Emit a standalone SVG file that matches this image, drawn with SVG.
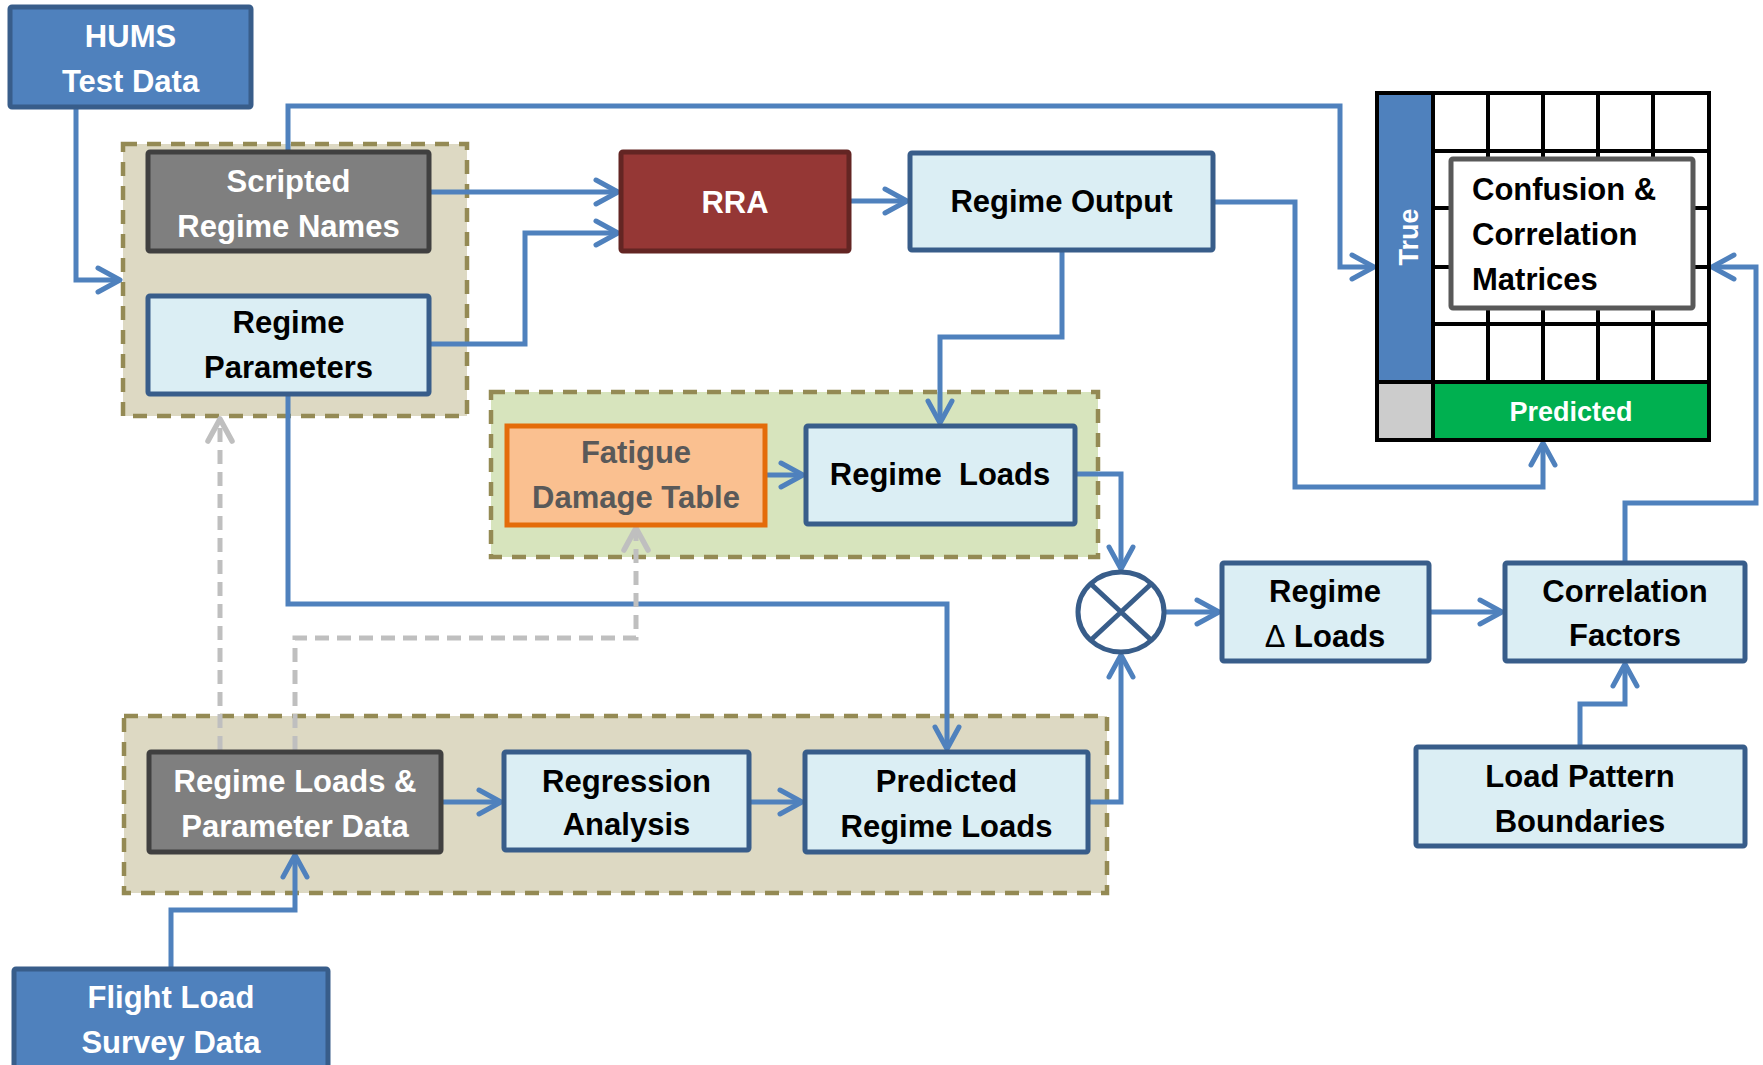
<svg xmlns="http://www.w3.org/2000/svg" width="1763" height="1065" viewBox="0 0 1763 1065">
<style>
text{font-family:"Liberation Sans",Arial,sans-serif;font-weight:bold;font-size:31px;text-anchor:middle}
.w{fill:#ffffff}
.k{fill:#000000}
.g{fill:#595959}
.blue{fill:#4f81bd;stroke:#385d8a;stroke-width:5}
.light{fill:#dbeef4;stroke:#385d8a;stroke-width:5}
.dark{fill:#7f7f7f;stroke:#404040;stroke-width:5}
.grp{stroke:#948a54;stroke-width:4.5;stroke-dasharray:14 10}
.c{fill:none;stroke:#4f81bd;stroke-width:5;stroke-linejoin:miter}
.d{fill:none;stroke:#bfbfbf;stroke-width:5;stroke-dasharray:14 8}
.grid{stroke:#000000;stroke-width:4}
</style>
<defs>
<marker id="ah" viewBox="-28 -16 32 32" refX="0" refY="0" markerWidth="32" markerHeight="32" markerUnits="userSpaceOnUse" orient="auto">
<path d="M-22,-12 L0,0 L-22,12" fill="none" stroke="#4f81bd" stroke-width="5" stroke-linecap="round" stroke-linejoin="round"/>
</marker>
<marker id="ahg" viewBox="-28 -16 32 32" refX="0" refY="0" markerWidth="32" markerHeight="32" markerUnits="userSpaceOnUse" orient="auto">
<path d="M-22,-12 L0,0 L-22,12" fill="none" stroke="#bfbfbf" stroke-width="5.5" stroke-linecap="round" stroke-linejoin="round"/>
</marker>
</defs>

<g id="group-top">
<rect x="123" y="144" width="344" height="272" fill="#ddd9c3" class="grp"/>
</g>
<g id="group-fatigue">
<rect x="491" y="392" width="607" height="165" fill="#d7e4bd" class="grp"/>
</g>
<g id="group-bottom">
<rect x="124" y="716" width="983" height="177" fill="#ddd9c3" class="grp"/>
</g>

<g id="connectors">
<path class="c" d="M76,107 V280 H120" marker-end="url(#ah)"/>
<path class="c" d="M288,152 V106 H1340 V267 H1374" marker-end="url(#ah)"/>
<path class="c" d="M429,192 H618" marker-end="url(#ah)"/>
<path class="c" d="M429,344 H525 V233 H618" marker-end="url(#ah)"/>
<path class="c" d="M849,201 H907" marker-end="url(#ah)"/>
<path class="c" d="M1213,202 H1295 V487 H1543 V443" marker-end="url(#ah)"/>
<path class="c" d="M1062,250 V337 H940 V423" marker-end="url(#ah)"/>
<path class="c" d="M765,475 H803" marker-end="url(#ah)"/>
<path class="c" d="M1075,474 H1121 V569" marker-end="url(#ah)"/>
<path class="c" d="M1088,802 H1121 V655" marker-end="url(#ah)"/>
<path class="c" d="M1166,612 H1219" marker-end="url(#ah)"/>
<path class="c" d="M1429,612 H1502" marker-end="url(#ah)"/>
<path class="c" d="M1625,563 V503 H1756 V267 H1712" marker-end="url(#ah)"/>
<path class="c" d="M1580,747 V704 H1625 V664" marker-end="url(#ah)"/>
<path class="c" d="M288,394 V604 H947 V749" marker-end="url(#ah)"/>
<path class="c" d="M441,802 H501" marker-end="url(#ah)"/>
<path class="c" d="M749,802 H802" marker-end="url(#ah)"/>
<path class="c" d="M171,969 V910 H295 V855" marker-end="url(#ah)"/>
<path class="d" d="M220,750 V419" marker-end="url(#ahg)"/>
<path class="d" d="M295,750 V638 H636 V528" marker-end="url(#ahg)"/>
</g>

<g id="hums">
<rect class="blue" x="10" y="7" width="241" height="100" rx="2"/>
<text class="w" x="130.5" y="47">HUMS</text>
<text class="w" x="130.5" y="92">Test Data</text>
</g>
<g id="scripted">
<rect class="dark" x="148" y="152" width="281" height="99" rx="2"/>
<text class="w" x="288.5" y="192">Scripted</text>
<text class="w" x="288.5" y="237">Regime Names</text>
</g>
<g id="regime-params">
<rect class="light" x="148" y="296" width="281" height="98" rx="2"/>
<text class="k" x="288.5" y="333">Regime</text>
<text class="k" x="288.5" y="378">Parameters</text>
</g>
<g id="rra">
<rect x="621" y="152" width="228" height="99" rx="2" fill="#953735" stroke="#632523" stroke-width="5"/>
<text class="w" x="735" y="213">RRA</text>
</g>
<g id="regime-output">
<rect class="light" x="910" y="153" width="303" height="97" rx="2"/>
<text class="k" x="1061.5" y="212">Regime Output</text>
</g>
<g id="fatigue">
<rect x="507" y="426" width="258" height="99" fill="#fac090" stroke="#e46c0a" stroke-width="5"/>
<text class="g" x="636" y="463">Fatigue</text>
<text class="g" x="636" y="508">Damage Table</text>
</g>
<g id="regime-loads">
<rect class="light" x="806" y="426" width="269" height="98" rx="2"/>
<text class="k" x="940" y="485" xml:space="preserve">Regime  Loads</text>
</g>
<g id="multiplier">
<ellipse cx="1121" cy="612" rx="43" ry="40" fill="#ffffff" stroke="#385d8a" stroke-width="5"/>
<path d="M1092,585 L1150,639 M1150,585 L1092,639" stroke="#385d8a" stroke-width="5" fill="none"/>
</g>
<g id="delta-loads">
<rect class="light" x="1222" y="563" width="207" height="98" rx="2"/>
<text class="k" x="1325" y="602">Regime</text>
<text class="k" x="1325" y="647"><tspan style="font-weight:normal">Δ</tspan> Loads</text>
</g>
<g id="correlation-factors">
<rect class="light" x="1505" y="563" width="240" height="98" rx="2"/>
<text class="k" x="1625" y="602">Correlation</text>
<text class="k" x="1625" y="646">Factors</text>
</g>
<g id="load-pattern">
<rect class="light" x="1416" y="747" width="329" height="99" rx="2"/>
<text class="k" x="1580" y="787">Load Pattern</text>
<text class="k" x="1580" y="832">Boundaries</text>
</g>
<g id="regime-loads-param-data">
<rect class="dark" x="149" y="752" width="292" height="100" rx="2"/>
<text class="w" x="295" y="792">Regime Loads &amp;</text>
<text class="w" x="295" y="837">Parameter Data</text>
</g>
<g id="regression">
<rect class="light" x="504" y="752" width="245" height="98" rx="2"/>
<text class="k" x="626.5" y="792">Regression</text>
<text class="k" x="626.5" y="835">Analysis</text>
</g>
<g id="predicted-loads">
<rect class="light" x="805" y="752" width="283" height="100" rx="2"/>
<text class="k" x="946.5" y="792">Predicted</text>
<text class="k" x="946.5" y="837">Regime Loads</text>
</g>
<g id="flight-load">
<rect class="blue" x="14" y="969" width="314" height="100" rx="2"/>
<text class="w" x="171" y="1008">Flight Load</text>
<text class="w" x="171" y="1053">Survey Data</text>
</g>

<g id="matrix">
<rect x="1377" y="93" width="332" height="347" fill="#ffffff"/>
<rect x="1377" y="93" width="56" height="289" fill="#4f81bd"/>
<rect x="1377" y="382" width="56" height="58" fill="#cccccc"/>
<rect x="1433" y="382" width="276" height="58" fill="#00b050"/>
<path class="grid" d="M1433,93 V440 M1488,93 V382 M1543,93 V382 M1598,93 V382 M1653,93 V382 M1433,151 H1709 M1433,208 H1709 M1433,267 H1709 M1433,324 H1709 M1377,382 H1709"/>
<rect x="1377" y="93" width="332" height="347" fill="none" stroke="#000000" stroke-width="4"/>
<text class="w" transform="translate(1418,237) rotate(-90)" style="font-size:27px">True</text>
<text class="w" x="1571" y="421" style="font-size:27px">Predicted</text>
<rect x="1451" y="159" width="242" height="149" fill="#ffffff" stroke="#595959" stroke-width="5" rx="2"/>
<text class="k" x="1472" y="200" style="text-anchor:start">Confusion &amp;</text>
<text class="k" x="1472" y="245" style="text-anchor:start">Correlation</text>
<text class="k" x="1472" y="290" style="text-anchor:start">Matrices</text>
</g>
</svg>
